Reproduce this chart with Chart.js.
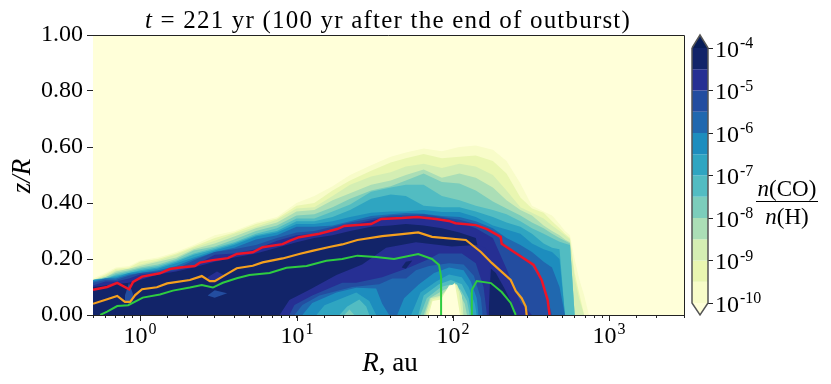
<!DOCTYPE html>
<html>
<head>
<meta charset="utf-8">
<title>CO abundance</title>
<script src="https://cdn.jsdelivr.net/npm/chart.js@4"></script>
<style>
  html, body { margin: 0; padding: 0; background: #fff; }
  #wrap { position: relative; width: 831px; height: 384px; overflow: hidden; }
  canvas { position: absolute; left: 0; top: 0; }
</style>
</head>
<body>
<div id="wrap">
  <canvas id="mainChart" width="831" height="384"></canvas>
  <canvas id="barChart" width="831" height="384"></canvas>
</div>
<script>
// colours of the bands, from log n = -10 up to -4
const backgroundColor = '#ffffd9';
const topColor = '#081d58';
const bandColors = ['#f8fcc9', '#e9f6b1', '#d4eeb3', '#abdeb6', '#7ccdbb', '#52bcc2',
                    '#2fa5c1', '#1d8dbe', '#2068af', '#234da0', '#262f93', '#122469'];
const bandEdges = [-10, -9.5, -9, -8.5, -8, -7.5, -7, -6.5, -6, -5.5, -5, -4.5, -4];
const barExponents = [-10, -9, -8, -7, -6, -5, -4];
const zTicks = [0, 0.2, 0.4, 0.6, 0.8, 1];

// R samples (au) shared by the upper edges of the contour levels
const rGrid = [0.5, 0.6, 0.7, 0.85, 1, 1.3, 1.7, 2.2, 3, 4, 5.5, 7.5,
               10, 13, 17, 22, 30, 40, 50, 65, 85, 110, 140, 180, 220, 270, 320, 380, 430, 480,
               520, 560, 600, 640, 690, 740, 3000];

// upper edge z/R of each level
const zLevel0 = [.13,.15,.17,.175,.195,.205,.225,.25,.285,.30,.33,.35,
                 .40,.425,.46,.50,.535,.565,.58,.595,.585,.60,.605,.59,.55,.47,.39,.37,.355,.325,
                 .30,.285,.20,.13,.07,0,0];
const zLevel1 = [.125,.145,.165,.17,.19,.20,.22,.245,.275,.295,.325,.345,
                 .39,.40,.445,.48,.515,.545,.56,.575,.56,.565,.57,.55,.505,.42,.38,.365,.335,.31,
                 .29,.275,.15,.08,0,0,0];
const zLevel2 = [.125,.14,.16,.165,.18,.195,.215,.24,.265,.29,.315,.34,
                 .38,.385,.425,.465,.495,.51,.53,.54,.525,.54,.53,.50,.445,.385,.365,.345,.32,.30,
                 .285,.27,.13,.06,0,0,0];
const zLevel3 = [.125,.135,.155,.165,.175,.19,.205,.235,.255,.28,.31,.33,
                 .37,.375,.41,.435,.465,.48,.50,.52,.49,.505,.49,.455,.41,.375,.355,.32,.30,.285,
                 .27,.26,0,0,0,0,0];
const zLevel4 = [.125,.135,.15,.16,.17,.18,.20,.23,.245,.27,.30,.32,
                 .355,.36,.385,.415,.445,.46,.48,.505,.475,.47,.445,.405,.38,.355,.33,.31,.29,.275,
                 .265,.255,0,0,0,0,0];
const zLevel5 = [.125,.13,.145,.155,.165,.175,.195,.22,.24,.26,.29,.31,
                 .345,.345,.37,.395,.44,.455,.465,.465,.425,.41,.39,.375,.36,.335,.31,.29,.275,.262,
                 .255,.25,0,0,0,0,0];
const zLevel6 = [.125,.13,.14,.15,.16,.17,.19,.215,.235,.255,.285,.30,
                 .335,.335,.35,.375,.415,.43,.425,.39,.385,.385,.37,.35,.33,.315,.29,.255,.24,.235,
                 0,0,0,0,0,0,0];
const zLevel7 = [.125,.13,.135,.15,.155,.165,.185,.205,.23,.25,.28,.295,
                 .325,.325,.335,.35,.365,.37,.37,.375,.368,.368,.35,.32,.305,.29,.255,.235,.225,.20,
                 0,0,0,0,0,0,0];
const zLevel8 = [.12,.13,.13,.145,.15,.16,.175,.20,.225,.24,.27,.285,
                 .315,.315,.32,.335,.354,.36,.364,.362,.354,.35,.335,.31,.275,.25,.225,.19,.17,.10,
                 0,0,0,0,0,0,0];
const zLevel9 = [.115,.125,.125,.14,.15,.155,.165,.195,.225,.235,.25,.275,
                 .295,.30,.315,.33,.345,.355,.358,.36,.35,.34,.325,.30,.245,.215,.175,.11,0,0,
                 0,0,0,0,0,0,0];
const zLevel10 = [.105,.12,.12,.13,.145,.15,.16,.175,.215,.22,.235,.265,
                  .285,.29,.305,.32,.338,.35,.35,.352,.345,.33,.31,.275,.165,.045,0,0,0,0,
                  0,0,0,0,0,0,0];
const zLevel11 = [.10,.105,.11,.115,.125,.145,.155,.17,.19,.205,.22,.24,
                  .26,.275,.285,.30,.315,.32,.325,.32,.31,.295,.275,0,0,0,0,0,0,0,
                  0,0,0,0,0,0,0];

// depleted region near the midplane, painted over the levels from the outside in
const rHole10 = [7.8, 9, 12.1, 18, 26.3, 37.4, 58, 98.6, 140, 162, 169, 180];
const zHole10 = [0, .054, .09, .143, .18, .24, .26, .245, .25, .24, .2, 0];
const rHole9 = [9, 9.7, 12.6, 19.6, 24.1, 35.3, 52.5, 70.3, 81.4, 114, 140, 157, 165];
const zHole9 = [0, .036, .07, .115, .115, .135, .17, .20, .22, .22, .185, .10, 0];
const rHole8 = [9.7, 10.9, 14, 22.7, 33.8, 40.9, 50.2, 58, 70.3, 94.4, 117, 136, 151, 155];
const zHole8 = [0, .036, .07, .10, .11, .13, .13, .16, .175, .185, .18, .14, .06, 0];
const rHole7 = [10.9, 12.6, 18, 24.1, 32.3, 35.3, 39.1, 44, 48.7, 60.7, 75.7, 94.4, 117, 130, 142, 146];
const zHole7 = [0, .043, .08, .097, .095, .04, 0, 0, .06, .11, .15, .17, .16, .12, .06, 0];
const rHole6 = [13.4, 15.1, 24.1, 29.2, 32.3, 54, 62, 78, 94.4, 114, 126, 138, 142];
const zHole6 = [0, .035, .08, .05, 0, 0, .08, .12, .145, .135, .10, .04, 0];
const rHole5 = [18.8, 21.1, 25.2, 27.9, 29.2, 60, 65, 81.4, 97, 114, 126, 132];
const zHole5 = [0, .03, .055, .03, 0, 0, .07, .11, .125, .11, .06, 0];
const rHole4 = [20.2, 21.8, 23.4, 62, 68, 83.9, 97, 112, 123, 128];
const zHole4 = [0, .02, 0, 0, .06, .10, .11, .09, .05, 0];
const rHole3 = [65, 71, 87.7, 97, 109, 119, 123];
const zHole3 = [0, .06, .09, .10, .08, .04, 0];
const rHole2 = [66.5, 72, 83.9, 94.4, 106, 114, 117];
const zHole2 = [0, .06, .07, .10, .11, .07, 0];
const rHole1 = [68, 73.5, 83.9, 92, 103, 109, 114];
const zHole1 = [0, .055, .065, .09, .115, .08, 0];
const rHole0 = [70, 74, 84, 89, 94.4, 103, 106, 111];
const zHole0 = [0, .05, .055, .08, .105, .11, .07, 0];

// dark patch just outside the depleted region
const rBlob = [169, 172, 175, 188, 211, 234, 252];
const zBlob = [0, .10, .165, .15, .10, .05, 0];

// small floating patches: R, top, bottom
const rStreak = [0.8, 0.85, 0.9];
const zStreakTop = [.07, .115, .075];
const zStreakBottom = [.05, .04, .05];
const rSmear = [2.7, 3, 3.6];
const zSmearTop = [.07, .088, .078];
const zSmearBottom = [.07, .062, .078];
const rBump = [2.7, 3.1, 3.5];
const zBumpTop = [.135, .155, .14];
const zBumpBottom = [.125, .12, .14];
const rIslet = [47, 50, 55];
const zIsletTop = [.17, .19, .195];
const zIsletBottom = [.17, .165, .195];

// contour lines
const rRed = [.5, .616, .714, .851, .902, 1.03, 1.34, 1.55, 1.8, 2.24, 2.41, 2.92, 3.64, 4.15, 5.25, 6.07, 8.15, 9.02, 10.4, 14,
              18.2, 20.2, 30, 34.8, 47.3, 59, 78, 94, 104, 140, 165, 202, 205, 263, 328, 369, 403, 415];
const zRed = [.09, .10, .115, .092, .118, .137, .149, .164, .17, .175, .187, .196, .203, .218, .224, .242, .253, .265, .278, .29,
              .307, .318, .325, .343, .346, .35, .343, .336, .328, .321, .307, .279, .254, .214, .179, .125, .054, 0];
const rOrange = [.5, .616, .714, .80, .864, .93, 1.03, 1.28, 1.49, 2.08, 2.48, 2.79, 3, 3.58, 4.15, 5.25, 6.07, 8.15, 10.4,
                 12.6, 16.2, 19.6, 24.5, 35.3, 47.3, 60, 73.5, 121, 151, 177, 234, 252, 275, 292, 296];
const zOrange = [.04, .056, .068, .047, .047, .071, .092, .099, .113, .125, .139, .121, .121, .146, .167, .176, .188, .202, .218,
                 .229, .243, .252, .268, .282, .289, .295, .279, .268, .225, .186, .125, .086, .06, .03, 0];
const rGreen1 = [.556, .616, .714, .84, 1.04, 1.34, 1.62, 2.08, 2.48, 2.92, 3.38, 4.15, 5, 6.73, 8.63, 11.6, 15.5,
                 19.6, 24.5, 32.3, 42, 60, 73.5, 81.4, 84, 84];
const zGreen1 = [0, .012, .032, .035, .062, .073, .087, .098, .107, .098, .115, .131, .143, .15, .169, .175, .194,
                 .20, .212, .207, .20, .218, .20, .179, .136, 0];
const rGreen2 = [132, 132, 142, 175, 205, 234, 252];
const zGreen2 = [0, .089, .121, .114, .082, .043, 0];

const serif = '"Liberation Serif", serif';

// draw a string made of runs with different styles, centred on x
function drawRuns(ctx, runs, x, y, size, spacing) {
  ctx.letterSpacing = (spacing || 0) + 'px';
  let width = 0;
  runs.forEach(run => {
    ctx.font = run[1] + ' ' + size + 'px ' + serif;
    width += ctx.measureText(run[0]).width;
  });
  let left = x - width / 2;
  ctx.textAlign = 'left';
  ctx.textBaseline = 'alphabetic';
  ctx.fillStyle = '#000';
  runs.forEach(run => {
    ctx.font = run[1] + ' ' + size + 'px ' + serif;
    ctx.fillText(run[0], left, y);
    left += ctx.measureText(run[0]).width;
  });
  ctx.letterSpacing = '0px';
}

function drawPower(ctx, exponent, left, baseline, exponentBaseline) {
  ctx.textAlign = 'left';
  ctx.textBaseline = 'alphabetic';
  ctx.fillStyle = '#000';
  ctx.font = '24px ' + serif;
  ctx.fillText('10', left, baseline);
  const width = ctx.measureText('10').width;
  ctx.font = '16px ' + serif;
  ctx.fillText(String(exponent), left + width + 1, exponentBaseline);
}

const mainTexts = {
  id: 'mainTexts',
  afterDraw(chart) {
    const ctx = chart.ctx;
    const area = chart.chartArea;
    const xScale = chart.scales.x;
    ctx.save();
    // frame
    ctx.lineWidth = 1;
    ctx.strokeStyle = '#222';
    ctx.beginPath();
    ctx.moveTo(area.left, area.top + 0.5);
    ctx.lineTo(area.right + 0.5, area.top + 0.5);
    ctx.lineTo(area.right + 0.5, area.bottom + 0.5);
    ctx.lineTo(area.left, area.bottom + 0.5);
    ctx.stroke();
    // decade ticks and labels of the log axis
    xScale.ticks.forEach(tick => {
      const exponent = Math.log10(tick.value);
      if (Math.abs(exponent - Math.round(exponent)) > 1e-9) return;
      const px = Math.round(xScale.getPixelForValue(tick.value)) + 0.5;
      ctx.beginPath();
      ctx.moveTo(px, area.bottom);
      ctx.lineTo(px, area.bottom + 6);
      ctx.stroke();
      drawPower(ctx, Math.round(exponent), px - 17, 343, 334);
    });
    drawRuns(ctx, [['t', 'italic'], [' = 221 yr (100 yr after the end of outburst)', 'normal']], 388, 28, 25, 1.2);
    drawRuns(ctx, [['R', 'italic'], [', au', 'normal']], 390, 371, 27);
    ctx.translate(30, 176);
    ctx.rotate(-Math.PI / 2);
    drawRuns(ctx, [['z/R', 'italic']], 0, 0, 27);
    ctx.restore();
  }
};

const barTexts = {
  id: 'barTexts',
  afterDraw(chart) {
    const ctx = chart.ctx;
    const yScale = chart.scales.y;
    ctx.save();
    yScale.ticks.forEach(tick => {
      const py = yScale.getPixelForValue(tick.value);
      drawPower(ctx, tick.value, 715, py + 8.5, py);
    });
    drawRuns(ctx, [['n', 'italic'], ['(CO)', 'normal']], 787, 196, 23);
    ctx.fillStyle = '#000';
    ctx.fillRect(756, 201, 62, 1);
    drawRuns(ctx, [['n', 'italic'], ['(H)', 'normal']], 787, 224, 23);
    ctx.restore();
  }
};

function toPoints(rValues, zValues) {
  return rValues.map((r, i) => ({x: r, y: zValues[i]}));
}

// filled area from the curve down to the midplane
function area(rValues, zValues, color) {
  return {
    data: toPoints(rValues, zValues),
    showLine: true,
    borderWidth: 0,
    pointRadius: 0,
    backgroundColor: color,
    fill: 'origin'
  };
}

// filled area between two curves; the second one is only a target
function patch(rValues, zTop, zBottom, color) {
  return [
    {data: toPoints(rValues, zTop), showLine: true, borderWidth: 0, pointRadius: 0, backgroundColor: color, fill: '+1'},
    {data: toPoints(rValues, zBottom), showLine: true, borderWidth: 0, pointRadius: 0, fill: false}
  ];
}

function contour(rValues, zValues, color, width) {
  return {
    data: toPoints(rValues, zValues),
    showLine: true,
    borderColor: color,
    borderWidth: width,
    pointRadius: 0,
    fill: false
  };
}

const levels = [zLevel0, zLevel1, zLevel2, zLevel3, zLevel4, zLevel5,
                zLevel6, zLevel7, zLevel8, zLevel9, zLevel10, zLevel11];

// datasets are listed in painting order, order is set below
const mainDatasets = [area([0.5, 3000], [1, 1], backgroundColor)];
levels.forEach((zValues, i) => mainDatasets.push(area(rGrid, zValues, bandColors[i])));
mainDatasets.push(
  area(rHole10, zHole10, bandColors[10]),
  area(rHole9, zHole9, bandColors[9]),
  area(rHole8, zHole8, bandColors[8]),
  area(rHole7, zHole7, bandColors[7]),
  area(rHole6, zHole6, bandColors[6]),
  area(rHole5, zHole5, bandColors[5]),
  area(rHole4, zHole4, bandColors[4]),
  area(rHole3, zHole3, bandColors[3]),
  area(rHole2, zHole2, bandColors[2]),
  area(rHole1, zHole1, bandColors[1]),
  area(rHole0, zHole0, backgroundColor),
  area(rBlob, zBlob, bandColors[11])
);
mainDatasets.push(...patch(rStreak, zStreakTop, zStreakBottom, bandColors[9]));
mainDatasets.push(...patch(rSmear, zSmearTop, zSmearBottom, bandColors[9]));
mainDatasets.push(...patch(rBump, zBumpTop, zBumpBottom, bandColors[10]));
mainDatasets.push(...patch(rIslet, zIsletTop, zIsletBottom, bandColors[11]));
mainDatasets.push(
  contour(rRed, zRed, '#ee1427', 2.5),
  contour(rOrange, zOrange, '#f5a01e', 2.2),
  contour(rGreen1, zGreen1, '#2ecc40', 2),
  contour(rGreen2, zGreen2, '#2ecc40', 2)
);
mainDatasets.forEach((dataset, i) => { dataset.order = mainDatasets.length - i; });

new Chart(document.getElementById('mainChart').getContext('2d'), {
  type: 'scatter',
  data: {datasets: mainDatasets},
  plugins: [mainTexts],
  options: {
    responsive: false,
    animation: false,
    events: [],
    layout: {padding: {left: 0, top: 35, right: 147, bottom: 0}},
    plugins: {legend: {display: false}, tooltip: {enabled: false}},
    scales: {
      x: {
        type: 'logarithmic',
        min: 0.5,
        max: 3000,
        afterFit: scale => { scale.height = 69; },
        grid: {drawOnChartArea: false, tickLength: 3, tickColor: '#222'},
        border: {color: '#222'},
        ticks: {autoSkip: false, maxRotation: 0, padding: 0, callback: () => ''}
      },
      y: {
        min: 0,
        max: 1,
        afterFit: scale => { scale.width = 93; },
        afterBuildTicks: scale => { scale.ticks = zTicks.map(value => ({value})); },
        grid: {drawOnChartArea: false, tickLength: 6, tickColor: '#222'},
        border: {color: '#666'},
        ticks: {
          color: '#000',
          padding: 4,
          font: {family: serif, size: 24},
          callback: value => value.toFixed(2)
        }
      }
    }
  }
});

// colour bar
const barTop = -3.694;
const barBottom = -10.282;
const barDatasets = [];
bandColors.forEach((color, i) => {
  barDatasets.push({
    data: toPoints([0, 1], [bandEdges[i + 1], bandEdges[i + 1]]),
    showLine: true, borderWidth: 0, pointRadius: 0,
    backgroundColor: color,
    fill: {value: bandEdges[i]}
  });
});
barDatasets.push({
  data: toPoints([0, 0.5, 1], [-4, barTop, -4]),
  showLine: true, borderWidth: 0, pointRadius: 0,
  backgroundColor: topColor,
  fill: {value: -4}
});
barDatasets.push({
  data: toPoints([0, 0.5, 1], [-10, barBottom, -10]),
  showLine: true, borderWidth: 0, pointRadius: 0,
  backgroundColor: backgroundColor,
  fill: {value: -10}
});
barDatasets.push({
  data: toPoints([0, 0.5, 1, 1, 0.5, 0, 0], [-4, barTop, -4, -10, barBottom, -10, -4]),
  showLine: true, borderColor: '#555', borderWidth: 1.5, pointRadius: 0, fill: false, clip: false
});
barDatasets.forEach((dataset, i) => { dataset.order = barDatasets.length - i; });

new Chart(document.getElementById('barChart').getContext('2d'), {
  type: 'scatter',
  data: {datasets: barDatasets},
  plugins: [barTexts],
  options: {
    responsive: false,
    animation: false,
    events: [],
    layout: {padding: {left: 692, top: 35, right: 0, bottom: 69}},
    plugins: {legend: {display: false}, tooltip: {enabled: false}},
    scales: {
      x: {type: 'linear', min: 0, max: 1, display: false},
      y: {
        position: 'right',
        min: barBottom,
        max: barTop,
        afterFit: scale => { scale.width = 123; },
        afterBuildTicks: scale => { scale.ticks = barExponents.map(value => ({value})); },
        grid: {drawOnChartArea: false, tickLength: 5, tickColor: '#222'},
        border: {display: false},
        ticks: {callback: () => ''}
      }
    }
  }
});
</script>
</body>
</html>
